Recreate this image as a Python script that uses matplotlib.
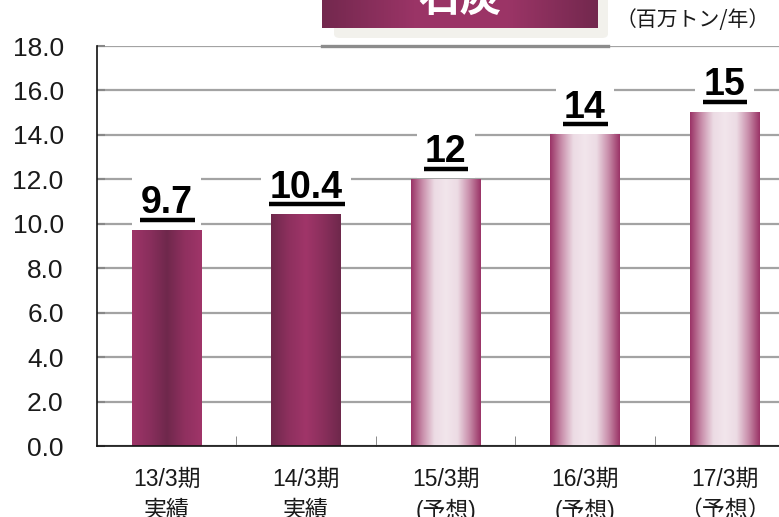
import numpy as np
import matplotlib.pyplot as plt
from matplotlib.colors import LinearSegmentedColormap
from matplotlib.patches import FancyBboxPatch
from matplotlib.lines import Line2D

plt.rcParams['font.family'] = ['Liberation Sans', 'Noto Sans CJK JP', 'DejaVu Sans']

# 生産量（百万トン/年）
periods = ['13/3期', '14/3期', '15/3期', '16/3期', '17/3期']
status = ['実績', '実績', '(予想)', '(予想)', '（予想）']
volumes = [9.7, 10.4, 12, 14, 15]
value_labels = ['9.7', '10.4', '12', '14', '15']
is_forecast = [False, False, True, True, True]

fig = plt.figure(figsize=(7.79, 5.17), dpi=100)
ax = fig.add_axes([0.1245, 0.1373, 0.895, 0.7737])

x = np.arange(len(periods))
bar_w = 0.5

# グラデーション
cmap_a = LinearSegmentedColormap.from_list('a', ['#9e3468', '#8a2f5d', '#6f284c', '#8f305f', '#a03569'])
cmap_b = LinearSegmentedColormap.from_list('b', ['#6e284b', '#8d305e', '#a03569', '#8a2f5c', '#6e284b'])
cmap_f = LinearSegmentedColormap.from_list('f', ['#9a3366', '#c98fab', '#ecdbe4', '#f2e6ec', '#ecdbe4', '#c98fab', '#9a3366'])

bars = ax.bar(x, volumes, width=bar_w, color='none', edgecolor='none', zorder=2)
grad = np.linspace(0, 1, 256).reshape(1, -1)
for i, b in enumerate(bars):
    if is_forecast[i]:
        cm = cmap_f
    elif i == 0:
        cm = cmap_a
    else:
        cm = cmap_b
    x0 = b.get_x()
    ax.imshow(grad, cmap=cm, aspect='auto', zorder=2,
              extent=[x0, x0 + b.get_width(), 0, b.get_height()])

ax.set_xlim(-0.5, len(periods) - 0.5)
ax.set_ylim(0, 18)
ax.set_yticks(np.arange(0, 18.1, 2))
ax.set_yticklabels([f'{v:.1f}' for v in np.arange(0, 18.1, 2)], fontsize=19, color='#1a1a1a')
ax.yaxis.grid(True, color='#a3a3a3', linewidth=1.6, zorder=0)
ax.set_axisbelow(True)

ax.set_xticks(x)
ax.set_xticklabels([f'{p}\n{s}' for p, s in zip(periods, status)], fontsize=16.5,
                   color='#1a1a1a', linespacing=1.4)
ax.tick_params(axis='x', length=0, pad=16)
ax.set_xticks(np.arange(0.5, len(periods) - 0.5), minor=True)
ax.tick_params(axis='x', which='minor', direction='in', length=7, color='#777777')
ax.tick_params(axis='y', direction='in', length=6, color='#888888', width=1.5, pad=24)

for s in ['top', 'right']:
    ax.spines[s].set_visible(False)
ax.spines['left'].set_color('#111111')
ax.spines['bottom'].set_color('#111111')
ax.spines['left'].set_linewidth(1.2)
ax.spines['bottom'].set_linewidth(1.2)

# 数値ラベル
texts = []
for xi, v, lab in zip(x, volumes, value_labels):
    t = ax.annotate(lab, (xi, v), xytext=(0, 12.5), textcoords='offset points',
                    ha='center', va='baseline', fontsize=27, fontweight='bold',
                    color='#000000', zorder=4,
                    bbox=dict(boxstyle='square,pad=0.22', fc='white', ec='none'))
    texts.append(t)

fig.canvas.draw()
inv = fig.transFigure.inverted()
for t, xi, v in zip(texts, x, volumes):
    bb = t.get_window_extent()
    y_px = ax.transData.transform((xi, v))[1] + 10.5
    (fx0, fy), (fx1, _) = inv.transform([(bb.x0 - 1, y_px), (bb.x1 + 2, y_px)])
    fig.add_artist(Line2D([fx0, fx1], [fy, fy], color='black', linewidth=3.2,
                          solid_capstyle='butt', zorder=5))

# 見出しボックス
shadow = FancyBboxPatch((334 / 779, 1 - 38 / 517), 274 / 779, 60 / 517,
                        boxstyle='round,pad=0,rounding_size=0.008',
                        transform=fig.transFigure, fc='#f2f1ec', ec='none', zorder=1)
fig.add_artist(shadow)
head_ax = fig.add_axes([322 / 779, 1 - 28 / 517, 276 / 779, 28 / 517], zorder=3)
head_ax.imshow(np.linspace(0, 1, 256).reshape(1, -1), aspect='auto',
               cmap=LinearSegmentedColormap.from_list('h', ['#73284e', '#9a3466', '#9c3567', '#73284e']))
head_ax.axis('off')
head_ax.text(0.5, 1.05, '石炭', ha='center', va='center', fontsize=30,
             fontweight='bold', color='white', family=['Noto Sans CJK JP'],
             transform=head_ax.transAxes)
fig.add_artist(Line2D([322 / 779, 608 / 779], [1 - 46 / 517] * 2, color='#8c8c8c',
                      linewidth=2.4, zorder=3))

fig.text(693 / 779, 1 - 20 / 517, '（百万トン/年）', ha='center', va='center',
         fontsize=15, color='#1a1a1a', family=['Noto Sans CJK JP'])

fig.savefig('out.png', dpi=100)
